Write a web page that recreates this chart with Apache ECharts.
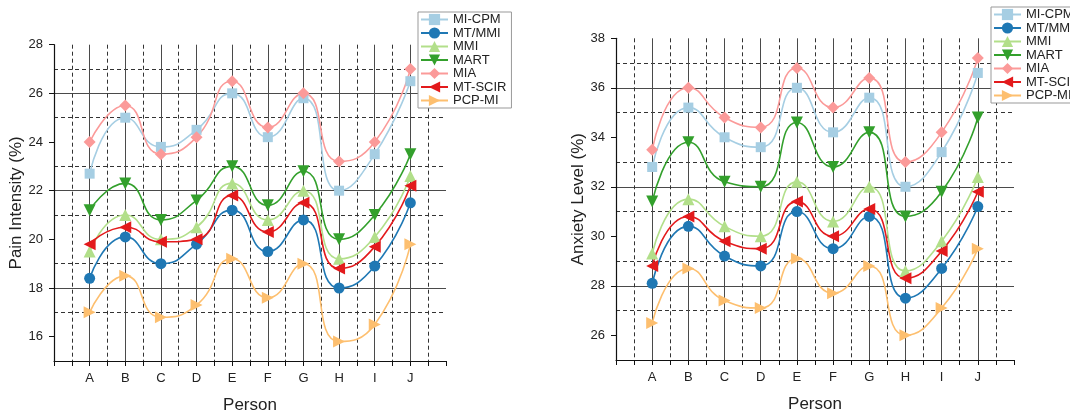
<!DOCTYPE html>
<html>
<head>
<meta charset="utf-8">
<script src="https://cdn.jsdelivr.net/npm/echarts@6/dist/echarts.min.js"></script>
<style>
  html, body { margin: 0; padding: 0; background: #fff; }
  #chart { width: 1070px; height: 413px; }
</style>
</head>
<body>
<div id="chart"></div>
<script>
// 数据
var persons = ['A', 'B', 'C', 'D', 'E', 'F', 'G', 'H', 'I', 'J'];
var methods = ['MI-CPM', 'MT/MMI', 'MMI', 'MART', 'MIA', 'MT-SCIR', 'PCP-MI'];

// Pain Intensity (%)
var miCpmPain  = [22.7, 25.0, 23.8, 24.5, 26.0, 24.2, 25.8, 22.0, 23.5, 26.5];
var mtMmiPain  = [18.4, 20.1, 19.0, 19.8, 21.2, 19.5, 20.8, 18.0, 18.9, 21.5];
var mmiPain    = [19.5, 21.0, 20.0, 20.5, 22.3, 20.8, 22.0, 19.2, 20.1, 22.6];
var martPain   = [21.2, 22.3, 20.8, 21.6, 23.0, 21.4, 22.8, 20.0, 21.0, 23.5];
var miaPain    = [24.0, 25.5, 23.5, 24.2, 26.5, 24.6, 26.0, 23.2, 24.0, 27.0];
var mtScirPain = [19.8, 20.5, 19.9, 20.0, 21.8, 20.3, 21.5, 18.8, 19.7, 22.2];
var pcpMiPain  = [17.0, 18.5, 16.8, 17.3, 19.2, 17.6, 19.0, 15.8, 16.5, 19.8];

// Anxiety Level (%)
var miCpmAnx  = [32.8, 35.2, 34.0, 33.6, 36.0, 34.2, 35.6, 32.0, 33.4, 36.6];
var mtMmiAnx  = [28.1, 30.4, 29.2, 28.8, 31.0, 29.5, 30.8, 27.5, 28.7, 31.2];
var mmiAnx    = [29.3, 31.5, 30.4, 30.0, 32.2, 30.6, 32.0, 28.6, 29.8, 32.4];
var martAnx   = [31.4, 33.8, 32.2, 32.0, 34.6, 32.8, 34.2, 30.8, 31.8, 34.8];
var miaAnx    = [33.5, 36.0, 34.8, 34.4, 36.8, 35.2, 36.4, 33.0, 34.2, 37.2];
var mtScirAnx = [28.8, 30.8, 29.8, 29.5, 31.4, 30.0, 31.1, 28.3, 29.4, 31.8];
var pcpMiAnx  = [26.5, 28.7, 27.4, 27.1, 29.1, 27.7, 28.8, 26.0, 27.1, 29.5];

var painRange = [15, 28];
var anxRange = [25, 38];

var painData = [miCpmPain, mtMmiPain, mmiPain, martPain, miaPain, mtScirPain, pcpMiPain];
var anxData = [miCpmAnx, mtMmiAnx, mmiAnx, martAnx, miaAnx, mtScirAnx, pcpMiAnx];

// 样式
var colors = ['#a6cee3', '#1f78b4', '#b2df8a', '#33a02c', '#fb9a99', '#e31a1c', '#fdbf6f'];
var symbols = [
  'rect',
  'circle',
  'path://M5,0L10,9L0,9Z',
  'path://M0,0L10,0L5,9Z',
  'diamond',
  'path://M9,0L9,10L0,5Z',
  'path://M0,0L0,10L9,5Z'
];
var symbolSizes = [10, 11, 12, 12, 12, 12, 12];

var font = '"Liberation Sans", Arial, sans-serif';
var solidColor = '#4a4a4a';
var dashColor = '#333';
var none = 'rgba(0,0,0,0)';

var myChart = echarts.init(document.getElementById('chart'));

function xAxes(gridIndex) {
  var lineColors = [];
  for (var i = 0; i <= 11; i++) {
    lineColors.push(i >= 1 && i <= 10 ? solidColor : none);
  }
  return [{
    type: 'value',
    gridIndex: gridIndex,
    min: 0,
    max: 11,
    interval: 1,
    name: 'Person',
    nameLocation: 'middle',
    nameGap: 36,
    nameTextStyle: { fontSize: 17, color: '#222', fontFamily: font },
    axisLine: { show: true, onZero: false, lineStyle: { color: '#111', width: 1.2 } },
    axisTick: { show: true, length: 5, lineStyle: { color: '#111' } },
    minorTick: { show: true, splitNumber: 2, length: 5, lineStyle: { color: '#111' } },
    axisLabel: {
      margin: 11,
      fontSize: 13,
      color: '#222',
      fontFamily: font,
      formatter: function (v) { return persons[v - 1] || ''; }
    },
    splitLine: { show: true, lineStyle: { color: lineColors, width: 1 } },
    minorSplitLine: { show: true, lineStyle: { color: dashColor, width: 1, type: [4, 3] } }
  }];
}

function yAxes(gridIndex, range, name) {
  var solid = [], dashed = [], evens = [];
  for (var v = range[0]; v <= range[1]; v++) {
    var even = v % 2 === 0;
    solid.push(even && v < range[1] ? solidColor : none);
    dashed.push(!even && v > range[0] ? dashColor : none);
    if (even) evens.push(v);
  }
  return [{
    type: 'value',
    gridIndex: gridIndex,
    min: range[0],
    max: range[1],
    interval: 1,
    name: name,
    nameLocation: 'middle',
    nameGap: 29,
    nameTextStyle: { fontSize: 17, color: '#222', fontFamily: font },
    axisLine: { show: true, onZero: false, lineStyle: { color: '#111', width: 1.2 } },
    axisTick: { show: true, length: 5, customValues: evens, lineStyle: { color: '#111' } },
    axisLabel: { margin: 11, fontSize: 13, color: '#222', fontFamily: font, customValues: evens },
    splitLine: { show: true, lineStyle: { color: solid, width: 1 } }
  }, {
    type: 'value',
    gridIndex: gridIndex,
    min: range[0],
    max: range[1],
    interval: 1,
    axisLine: { show: false },
    axisTick: { show: false },
    axisLabel: { show: false },
    splitLine: { show: true, lineStyle: { color: dashed, width: 1, type: [4, 3] } }
  }];
}

var series = [];
methods.forEach(function (m, k) {
  [painData[k], anxData[k]].forEach(function (vals, g) {
    series.push({
      name: m,
      type: 'line',
      xAxisIndex: g,
      yAxisIndex: g * 2,
      data: vals.map(function (y, i) { return [i + 1, y]; }),
      smooth: 0.55,
      symbol: symbols[k],
      symbolSize: symbolSizes[k],
      showAllSymbol: true,
      color: colors[k],
      lineStyle: { width: 1.6, color: colors[k] },
      itemStyle: { color: colors[k] },
      z: 3
    });
  });
});

var legendBase = {
  orient: 'vertical',
  data: methods,
  backgroundColor: '#fff',
  borderColor: '#999',
  borderWidth: 1,
  itemWidth: 27,
  itemHeight: 14,
  itemGap: 0.5,
  textStyle: { fontSize: 13, color: '#222', fontFamily: font }
};

var option = {
  backgroundColor: '#fff',
  animation: false,
  grid: [
    { left: 54, top: 44.7, width: 392, height: 316.3, outerBoundsMode: 'none' },
    { left: 616, top: 38.3, width: 398, height: 321.7, outerBoundsMode: 'none' }
  ],
  xAxis: xAxes(0).concat(xAxes(1)),
  yAxis: yAxes(0, painRange, 'Pain Intensity (%)').concat(yAxes(1, anxRange, 'Anxiety Level (%)')),
  legend: [
    Object.assign({}, legendBase, { left: 418, top: 12, padding: [1, 5, 1, 2] }),
    Object.assign({}, legendBase, { left: 991, top: 7, padding: [1, 5, 1, 2] })
  ],
  series: series
};

myChart.setOption(option);
</script>
</body>
</html>
